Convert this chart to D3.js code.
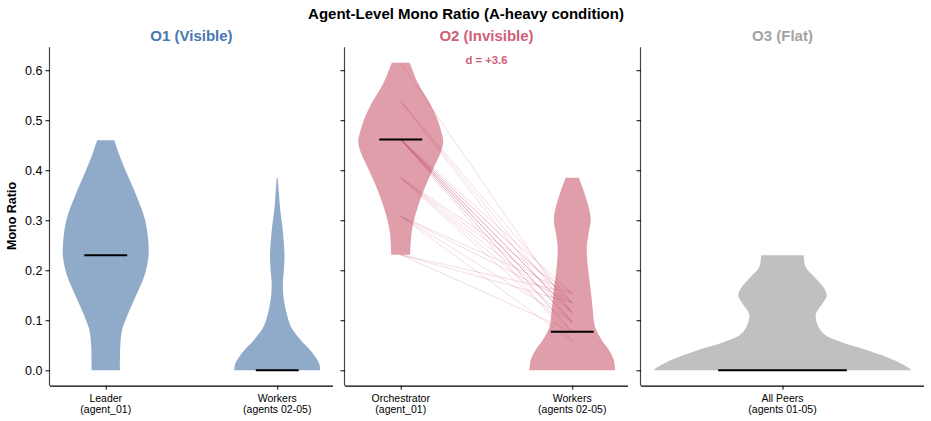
<!DOCTYPE html>
<html><head><meta charset="utf-8">
<script src="https://cdn.jsdelivr.net/npm/d3@7"></script>
<style>
body{margin:0;background:#fff;}
svg{display:block;font-family:"Liberation Sans",Arial,Helvetica,sans-serif;}
</style></head>
<body><svg id="c" width="931" height="421"></svg>
<script>
// ---- data ----
const chartTitle = "Agent-Level Mono Ratio (A-heavy condition)";
const panelTitles = ["O1 (Visible)", "O2 (Invisible)", "O3 (Flat)"];
const panelColors = ["#4c78a8", "#cb6275", "#999999"];
const titleColors = ["#4a78b2", "#cf6079", "#a3a3a3"];
const yTicks = [0.0, 0.1, 0.2, 0.3, 0.4, 0.5, 0.6];
const cats1 = [["Leader", "(agent_01)"], ["Workers", "(agents 02-05)"]];
const cats2 = [["Orchestrator", "(agent_01)"], ["Workers", "(agents 02-05)"]];
const cats3 = [["All Peers", "(agents 01-05)"]];

// violin profiles: value levels and relative half-widths (max = 1)
const o1LeaderLevels = [0, 0.05, 0.08, 0.10, 0.125, 0.15, 0.175, 0.20, 0.23, 0.26, 0.30, 0.35, 0.40, 0.43, 0.46];
const o1LeaderWidths = [0.33, 0.34, 0.38, 0.46, 0.58, 0.71, 0.84, 0.94, 1.0, 0.99, 0.92, 0.71, 0.46, 0.32, 0.2];
const o1WorkerLevels = [0, 0.01, 0.02, 0.04, 0.06, 0.087, 0.113, 0.14, 0.173, 0.2, 0.227, 0.253, 0.287, 0.32, 0.353, 0.385];
const o1WorkerWidths = [1.0, 0.99, 0.94, 0.77, 0.55, 0.32, 0.22, 0.155, 0.13, 0.155, 0.17, 0.155, 0.12, 0.07, 0.04, 0.01];
const o2OrchLevels = [0.231, 0.273, 0.307, 0.34, 0.373, 0.407, 0.44, 0.457, 0.473, 0.507, 0.54, 0.573, 0.615];
const o2OrchWidths = [0.22, 0.25, 0.33, 0.45, 0.60, 0.78, 0.95, 0.99, 0.96, 0.83, 0.64, 0.41, 0.21];
const o2WorkerLevels = [0, 0.02, 0.04, 0.06, 0.087, 0.12, 0.153, 0.187, 0.22, 0.247, 0.273, 0.30, 0.32, 0.353, 0.385];
const o2WorkerWidths = [1.0, 0.97, 0.86, 0.69, 0.53, 0.48, 0.44, 0.39, 0.35, 0.34, 0.38, 0.43, 0.40, 0.29, 0.155];
const o3Levels = [0, 0.003, 0.02, 0.04, 0.057, 0.073, 0.093, 0.113, 0.133, 0.15, 0.167, 0.187, 0.207, 0.23];
const o3Widths = [1.0, 0.99, 0.87, 0.66, 0.45, 0.32, 0.27, 0.26, 0.31, 0.344, 0.316, 0.246, 0.18, 0.166];

// medians
const o1Medians = [0.23, 0.0];
const o2Medians = [0.4615, 0.077];
const o3Medians = [0.0];

// paired runs in O2: orchestrator value -> mean worker value
const pairOrch = [0.615, 0.538, 0.538, 0.538,
  0.4615, 0.4615, 0.4615, 0.4615, 0.4615, 0.4615, 0.4615, 0.4615, 0.4615, 0.4615, 0.4615, 0.4615,
  0.385, 0.385, 0.385, 0.385, 0.385, 0.308, 0.308, 0.308, 0.308, 0.231, 0.231, 0.231];
const pairWorker = [0.115, 0.096, 0.115, 0.135,
  0.058, 0.077, 0.077, 0.096, 0.096, 0.096, 0.115, 0.115, 0.115, 0.135, 0.135, 0.154,
  0.077, 0.096, 0.115, 0.135, 0.154, 0.058, 0.096, 0.135, 0.154, 0.077, 0.135, 0.154];
const effectLabel = "d = +3.6";

// ---- layout ----
const svg = d3.select("#c");
const plotTop = 47.3, plotBottom = 385.7;
const panelX = [50, 345, 641], panelW = 283;
const y = d3.scaleLinear().domain([-0.0308, 0.6458]).range([plotBottom, plotTop]);
const halfW = 0.25;

svg.append("text").attr("x", 466).attr("y", 18.5).attr("text-anchor", "middle")
  .attr("font-size", 15).attr("font-weight", "bold").attr("fill", "#000").text(chartTitle);

const panels = [
  {cats: cats1, domain: [-0.325, 1.325], violins: [[o1LeaderLevels, o1LeaderWidths], [o1WorkerLevels, o1WorkerWidths]], medians: o1Medians},
  {cats: cats2, domain: [-0.325, 1.325], violins: [[o2OrchLevels, o2OrchWidths], [o2WorkerLevels, o2WorkerWidths]], medians: o2Medians},
  {cats: cats3, domain: [-0.275, 0.275], violins: [[o3Levels, o3Widths]], medians: o3Medians}
];

panels.forEach((p, i) => {
  const x = d3.scaleLinear().domain(p.domain).range([panelX[i], panelX[i] + panelW]);
  const g = svg.append("g");
  // violins
  p.violins.forEach(([lv, wd], k) => {
    const pts = lv.map((v, j) => ({v, w: wd[j]}));
    const area = d3.area().y(d => y(d.v)).x0(d => x(k - halfW * d.w)).x1(d => x(k + halfW * d.w))
      .curve(d3.curveCatmullRom.alpha(0.5));
    g.append("path").attr("d", area(pts)).attr("fill", panelColors[i]).attr("fill-opacity", 0.62);
  });
  // paired lines
  if (i === 1) {
    pairOrch.forEach((o, j) => {
      g.append("line").attr("x1", x(0)).attr("y1", y(o)).attr("x2", x(1)).attr("y2", y(pairWorker[j]))
        .attr("stroke", "#c44e6a").attr("stroke-opacity", 0.2).attr("stroke-width", 1);
    });
  }
  // medians
  p.medians.forEach((m, k) => {
    g.append("line").attr("x1", x(k - halfW / 2)).attr("x2", x(k + halfW / 2))
      .attr("y1", y(m)).attr("y2", y(m)).attr("stroke", "#000").attr("stroke-width", 2);
  });
  // y axis
  const ya = d3.axisLeft(y).tickValues(yTicks).tickSize(4.5).tickPadding(3)
    .tickFormat(i === 0 ? d3.format(".1f") : () => "");
  const yg = g.append("g").attr("transform", `translate(${panelX[i]},0)`).call(ya);
  yg.select(".domain").attr("d", `M-0.5,${plotTop}V${plotBottom}`).attr("stroke", "#444").attr("stroke-width", 1.2);
  yg.selectAll(".tick line").attr("stroke", "#000").attr("stroke-width", 1);
  yg.selectAll(".tick text").attr("font-size", 12.5).attr("fill", "#000").attr("font-family", "Liberation Sans, Arial, sans-serif");
  // x axis
  const xa = d3.axisBottom(x).tickValues(p.cats.map((c, k) => k)).tickSize(4).tickFormat("");
  const xg = g.append("g").attr("transform", `translate(0,${plotBottom})`).call(xa);
  xg.select(".domain").attr("d", `M${panelX[i]},0.5H${panelX[i] + panelW}`).attr("stroke", "#000").attr("stroke-width", 1.2);
  xg.selectAll(".tick line").attr("stroke", "#000");
  p.cats.forEach((c, k) => {
    c.forEach((s, l) => {
      g.append("text").attr("x", x(k)).attr("y", 402 + l * 11).attr("text-anchor", "middle")
        .attr("font-size", 10.5).attr("fill", "#000").text(s);
    });
  });
  // panel title
  g.append("text").attr("x", panelX[i] + panelW / 2).attr("y", 41).attr("text-anchor", "middle")
    .attr("font-size", 15).attr("font-weight", "bold").attr("fill", titleColors[i]).text(panelTitles[i]);
  if (i === 1) {
    g.append("text").attr("x", panelX[i] + panelW / 2).attr("y", 64).attr("text-anchor", "middle")
      .attr("font-size", 11.3).attr("font-weight", "bold").attr("fill", titleColors[1]).text(effectLabel);
  }
});

svg.append("text").attr("transform", `translate(16,216) rotate(-90)`).attr("text-anchor", "middle")
  .attr("font-size", 12.5).attr("font-weight", "bold").attr("fill", "#000").text("Mono Ratio");
</script></body></html>
